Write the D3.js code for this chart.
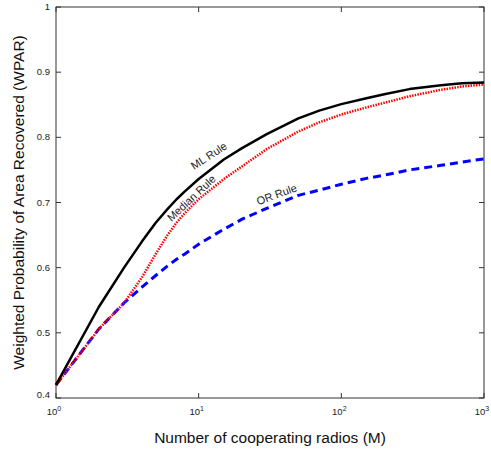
<!DOCTYPE html>
<html>
<head>
<meta charset="utf-8">
<script src="https://cdn.jsdelivr.net/npm/d3@7"></script>
<style>
html,body{margin:0;padding:0;background:#fff;}
svg{display:block;font-family:Arial,"Liberation Sans",sans-serif;}
</style>
</head>
<body>
<svg id="chart" width="491" height="449"></svg>
<script>
const radios = [1, 2, 3, 4, 5, 6, 7, 8, 10, 15, 20, 30, 50, 70, 100, 150, 200, 300, 500, 700, 1000];
const mlRule = [0.420, 0.540, 0.600, 0.640, 0.669, 0.689, 0.705, 0.717, 0.736, 0.766, 0.783, 0.805, 0.829, 0.841, 0.851, 0.860, 0.866, 0.874, 0.880, 0.883, 0.884];
const medianRule = [0.420, 0.506, 0.546, 0.585, 0.621, 0.649, 0.669, 0.684, 0.705, 0.736, 0.755, 0.782, 0.809, 0.823, 0.835, 0.846, 0.853, 0.863, 0.873, 0.878, 0.881];
const orRule = [0.420, 0.506, 0.546, 0.570, 0.588, 0.602, 0.613, 0.621, 0.636, 0.659, 0.674, 0.691, 0.711, 0.719, 0.728, 0.737, 0.742, 0.750, 0.757, 0.762, 0.767];
const yTicks = [0.4, 0.5, 0.6, 0.7, 0.8, 0.9, 1];
const xTicks = [1, 10, 100, 1000];
const xTickExp = ["0", "1", "2", "3"];

const svg = d3.select("#chart");
const m = {left: 56, right: 7, top: 7, bottom: 51};
const W = 491, H = 449;
const x = d3.scaleLog().domain([1, 1000]).range([m.left, W - m.right]);
const y = d3.scaleLinear().domain([0.4, 1]).range([H - m.bottom, m.top]);
const tickLen = 5;
const axisColor = "#333";

// frame
svg.append("rect").attr("x", x(1)).attr("y", y(1))
  .attr("width", x(1000) - x(1)).attr("height", y(0.4) - y(1))
  .attr("fill", "none").attr("stroke", axisColor).attr("stroke-width", 1);

// y ticks
yTicks.forEach((t, i) => {
  svg.append("line").attr("x1", x(1)).attr("x2", x(1) + tickLen)
    .attr("y1", y(t)).attr("y2", y(t)).attr("stroke", axisColor);
  svg.append("line").attr("x1", x(1000)).attr("x2", x(1000) - tickLen)
    .attr("y1", y(t)).attr("y2", y(t)).attr("stroke", axisColor);
  svg.append("text").attr("x", x(1) - 6).attr("y", y(t) + (i === 0 ? 0 : 3))
    .attr("text-anchor", "end").attr("font-size", 9.5).attr("fill", "#222")
    .text(t === 1 ? "1" : t.toFixed(1));
});

// x ticks
xTicks.forEach((t, i) => {
  svg.append("line").attr("x1", x(t)).attr("x2", x(t))
    .attr("y1", y(0.4)).attr("y2", y(0.4) - tickLen).attr("stroke", axisColor);
  svg.append("line").attr("x1", x(t)).attr("x2", x(t))
    .attr("y1", y(1)).attr("y2", y(1) + tickLen).attr("stroke", axisColor);
  const tx = svg.append("text").attr("x", x(t) - 2).attr("y", y(0.4) + 17)
    .attr("text-anchor", "middle").attr("font-size", 9.5).attr("fill", "#222");
  tx.append("tspan").text("10");
  tx.append("tspan").attr("dy", -4).attr("font-size", 7).text(xTickExp[i]);
});

// axis titles
svg.append("text").attr("x", (x(1) + x(1000)) / 2).attr("y", 443)
  .attr("text-anchor", "middle").attr("font-size", 15.5).attr("fill", "#111")
  .text("Number of cooperating radios (M)");
svg.append("text")
  .attr("transform", `translate(24,${(y(0.4) + y(1)) / 2}) rotate(-90)`)
  .attr("text-anchor", "middle").attr("font-size", 15.5).attr("fill", "#111")
  .text("Weighted Probability of Area Recovered (WPAR)");

const line = vals => d3.line().x((d, i) => x(radios[i])).y(d => y(d)).curve(d3.curveLinear)(vals);

svg.append("path").attr("d", line(orRule)).attr("fill", "none")
  .attr("stroke", "#0000ff").attr("stroke-width", 3).attr("stroke-dasharray", "8,5");
svg.append("path").attr("d", line(medianRule)).attr("fill", "none")
  .attr("stroke", "#ff0000").attr("stroke-width", 2.5).attr("stroke-dasharray", "1.5,1.2");
svg.append("path").attr("d", line(mlRule)).attr("fill", "none")
  .attr("stroke", "#000").attr("stroke-width", 2.5).attr("stroke-linejoin", "round");

// labels
const lab = (txt, cx, cy, ang) => svg.append("text")
  .attr("transform", `translate(${cx},${cy}) rotate(${ang})`)
  .attr("text-anchor", "middle").attr("font-size", 11).attr("fill", "#222").text(txt);
lab("ML Rule", 211, 159, -33);
lab("Median Rule", 194, 201, -43);
lab("OR Rule", 278, 198, -20);
</script>
</body>
</html>
